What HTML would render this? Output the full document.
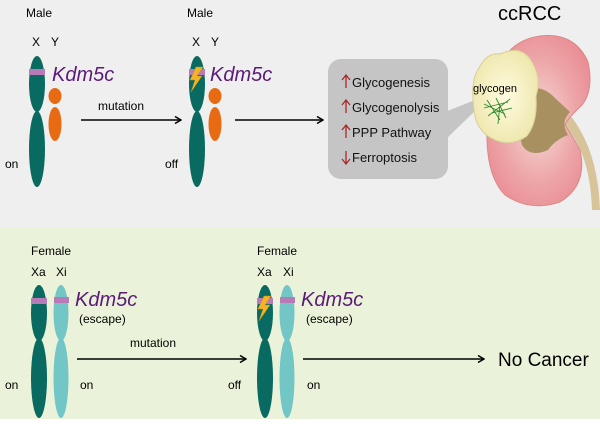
<!DOCTYPE html>
<html><head><meta charset="utf-8"><style>
body{margin:0;width:600px;height:419px;overflow:hidden;font-family:"Liberation Sans",Arial,sans-serif}
svg text{font-family:"Liberation Sans",Arial,sans-serif}
</style></head><body>
<svg width="600" height="419" viewBox="0 0 600 419" xmlns="http://www.w3.org/2000/svg">
<defs>
<marker id="ah" markerWidth="8" markerHeight="8" refX="7" refY="4" orient="auto" markerUnits="userSpaceOnUse"><path d="M1,0.5 L7,4 L1,7.5" fill="none" stroke="#000" stroke-width="1.5"/></marker>
<radialGradient id="kg" cx="0.5" cy="0.5" r="0.6"><stop offset="0" stop-color="#f6dcd8"/><stop offset="0.6" stop-color="#eda6a8"/><stop offset="1" stop-color="#e98b92"/></radialGradient>
<radialGradient id="tg" cx="0.5" cy="0.5" r="0.6"><stop offset="0" stop-color="#fffbe0"/><stop offset="1" stop-color="#ece5a8"/></radialGradient>
</defs>
<rect x="0" y="0" width="600" height="227" fill="#efefef"/>
<rect x="0" y="227" width="600" height="192" fill="#eaf3d9"/>

<text x="26" y="17" font-size="12">Male</text>
<text x="32" y="46" font-size="12">X</text><text x="51" y="46" font-size="12">Y</text>
<ellipse cx="37" cy="84" rx="8" ry="28" fill="#086a60"/>
<ellipse cx="37" cy="149" rx="8" ry="38" fill="#086a60"/>
<rect x="29" y="69" width="16" height="6" fill="#b97bb8"/>
<ellipse cx="55" cy="96" rx="6.5" ry="8" fill="#e86a12"/>
<ellipse cx="55" cy="124" rx="6.5" ry="17" fill="#e86a12"/>
<text x="52" y="81" font-size="20" font-style="italic" fill="#5a1a78">Kdm5c</text>
<text x="5" y="168" font-size="12">on</text>
<text x="98" y="110" font-size="12">mutation</text>
<line x1="81" y1="120" x2="181" y2="120" stroke="#000" stroke-width="1.5" marker-end="url(#ah)"/>

<text x="187" y="17" font-size="12">Male</text>
<text x="192" y="46" font-size="12">X</text><text x="211" y="46" font-size="12">Y</text>
<ellipse cx="197" cy="84" rx="8" ry="28" fill="#086a60"/>
<ellipse cx="197" cy="149" rx="8" ry="38" fill="#086a60"/>
<rect x="189" y="69" width="16" height="6" fill="#b97bb8"/>
<path d="M196,67 L190,80 L195,80 L191,92 L202,76 L197,76 L203,67Z" fill="#f2b32a" stroke="#c98a10" stroke-width="0.5"/>
<ellipse cx="215" cy="96" rx="6.5" ry="8" fill="#e86a12"/>
<ellipse cx="215" cy="124" rx="6.5" ry="17" fill="#e86a12"/>
<text x="210" y="81" font-size="20" font-style="italic" fill="#5a1a78">Kdm5c</text>
<text x="165" y="168" font-size="12">off</text>
<line x1="235" y1="120" x2="323" y2="120" stroke="#000" stroke-width="1.5" marker-end="url(#ah)"/>

<rect x="328" y="59" width="120" height="120" rx="13" fill="#c5c5c5"/>
<path d="M445,112 L475,100 L478,108 L445,140Z" fill="#c5c5c5"/>
<g font-size="13" fill="#111">
<text x="352" y="87">Glycogenesis</text>
<text x="352" y="112">Glycogenolysis</text>
<text x="352" y="137">PPP Pathway</text>
<text x="352" y="162">Ferroptosis</text>
</g>
<g stroke="#a8282a" stroke-width="1.3" fill="none">
<path d="M346,88 V76 M342,80 L346,75 L350,80"/>
<path d="M346,113 V101 M342,105 L346,100 L350,105"/>
<path d="M346,138 V126 M342,130 L346,125 L350,130"/>
<path d="M346,151 V163 M342,159 L346,164 L350,159"/>
</g>

<text x="498" y="20" font-size="20">ccRCC</text>
<path d="M562,122 Q590,150 592,210 L600,210 Q598,150 570,115Z" fill="#d7c49a"/>
<path d="M540,36 Q575,32 588,62 Q594,90 582,105 Q568,118 565,125 Q572,135 580,150 Q588,185 560,202 Q530,212 505,195 Q488,178 487,140 Q486,100 497,70 Q510,40 540,36Z" fill="url(#kg)" stroke="#d88a8a" stroke-width="1"/>
<path d="M522,92 Q540,82 555,98 L570,112 Q560,122 568,135 Q555,140 548,150 Q530,158 522,145 Q515,120 522,92Z" fill="#a89060"/>
<path d="M500,54 Q522,44 532,62 Q542,78 536,96 Q538,122 527,136 Q512,147 495,140 Q476,132 474,110 Q470,80 479,68 Q487,52 500,54Z" fill="url(#tg)" stroke="#d8cf98" stroke-width="1"/>
<text x="473" y="92" font-size="11">glycogen</text>
<g stroke="#2a8a2a" stroke-width="0.9" fill="none">
<path d="M484,108 L508,102 M487,100 L500,120 M492,113 L512,108 M496,98 L506,118 M488,116 L510,99 M500,104 L498,124 M484,104 L505,114"/>
</g>

<text x="31" y="255" font-size="12">Female</text>
<text x="31" y="276" font-size="12">Xa</text><text x="56" y="276" font-size="12">Xi</text>
<ellipse cx="39" cy="313" rx="8" ry="28" fill="#086a60"/>
<ellipse cx="39" cy="378" rx="8" ry="40" fill="#086a60"/>
<rect x="31" y="298" width="16" height="6" fill="#b97bb8"/>
<ellipse cx="61" cy="313" rx="7.5" ry="28" fill="#72c6c6"/>
<ellipse cx="61" cy="378" rx="7.5" ry="40" fill="#72c6c6"/>
<rect x="54" y="297" width="15" height="6" fill="#b97bb8"/>
<text x="75" y="306" font-size="20" font-style="italic" fill="#5a1a78">Kdm5c</text>
<text x="79" y="323" font-size="12">(escape)</text>
<text x="5" y="389" font-size="12">on</text>
<text x="80" y="389" font-size="12">on</text>
<text x="130" y="347" font-size="12">mutation</text>
<line x1="77" y1="359" x2="246" y2="359" stroke="#000" stroke-width="1.5" marker-end="url(#ah)"/>

<text x="257" y="255" font-size="12">Female</text>
<text x="257" y="276" font-size="12">Xa</text><text x="283" y="276" font-size="12">Xi</text>
<ellipse cx="265" cy="313" rx="8" ry="28" fill="#086a60"/>
<ellipse cx="265" cy="378" rx="8" ry="40" fill="#086a60"/>
<rect x="257" y="298" width="16" height="6" fill="#b97bb8"/>
<path d="M264,296 L258,309 L263,309 L259,321 L270,305 L265,305 L271,296Z" fill="#f2b32a" stroke="#c98a10" stroke-width="0.5"/>
<ellipse cx="287" cy="313" rx="7.5" ry="28" fill="#72c6c6"/>
<ellipse cx="287" cy="378" rx="7.5" ry="40" fill="#72c6c6"/>
<rect x="280" y="297" width="15" height="6" fill="#b97bb8"/>
<text x="301" y="306" font-size="20" font-style="italic" fill="#5a1a78">Kdm5c</text>
<text x="306" y="323" font-size="12">(escape)</text>
<text x="228" y="389" font-size="12">off</text>
<text x="307" y="389" font-size="12">on</text>
<line x1="303" y1="359" x2="484" y2="359" stroke="#000" stroke-width="1.5" marker-end="url(#ah)"/>
<text x="498" y="366" font-size="19">No Cancer</text>
</svg>
</body></html>
